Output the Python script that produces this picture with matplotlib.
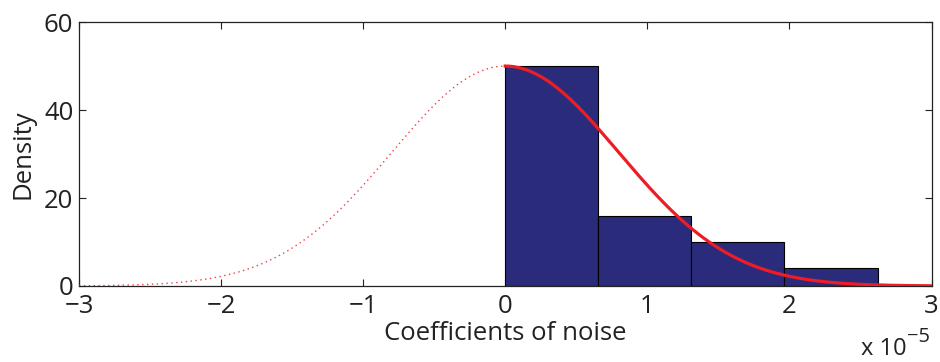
import numpy as np
import matplotlib
matplotlib.use("Agg")
import matplotlib.pyplot as plt

# Histogram (x in units of 1e-5)
bin_edges = [0.0, 0.655, 1.31, 1.965, 2.62]
bin_heights = [50, 16, 10, 4]

# Fitted half-normal curve parameters (units of 1e-5)
curve_peak = 50.0
curve_sigma = 0.80

xticks = [-3, -2, -1, 0, 1, 2, 3]
yticks = [0, 20, 40, 60]

plt.rcParams['font.family'] = ['Open Sans', 'DejaVu Sans']

fig = plt.figure(figsize=(9.4, 3.62), dpi=100)
ax = fig.add_axes([0.084, 0.21, 0.907, 0.729])

widths = np.diff(bin_edges)
ax.bar(bin_edges[:-1], bin_heights, width=widths, align='edge',
       color='#2A2C7B', edgecolor='black', linewidth=0.8, zorder=2)

xl = np.linspace(-3, 0, 300)
xr = np.linspace(0, 3, 300)
ax.plot(xl, curve_peak * np.exp(-xl**2 / (2 * curve_sigma**2)),
        color='#EE1C25', linestyle=(0, (1, 2.5)), linewidth=1.0, alpha=0.85, zorder=3)
ax.plot(xr, curve_peak * np.exp(-xr**2 / (2 * curve_sigma**2)),
        color='#EE1C25', linewidth=2.3, zorder=3)

ax.set_xlim(-3, 3)
ax.set_ylim(0, 60)
ax.set_xticks(xticks)
ax.set_yticks(yticks)
ax.tick_params(direction='in', top=True, right=True, labelsize=18.5,
               length=5, width=0.8, colors='#222222')
ax.tick_params(axis='x', pad=6)
ax.tick_params(axis='y', pad=4)
for s in ax.spines.values():
    s.set_linewidth(0.9)
    s.set_color('#222222')

ax.set_xlabel('Coefficients of noise', fontsize=18.5, labelpad=1, color='#222222')
ax.set_ylabel('Density', fontsize=18.5, labelpad=6, color='#222222')

fig.text(861 / 940, 1 - 355 / 362, 'x 10', fontsize=17, ha='left', va='baseline', color='#222222')
fig.text(907 / 940, 1 - 342 / 362, '\u22125', fontsize=14.5, ha='left', va='baseline', color='#222222')

fig.savefig('out.png', dpi=100)
